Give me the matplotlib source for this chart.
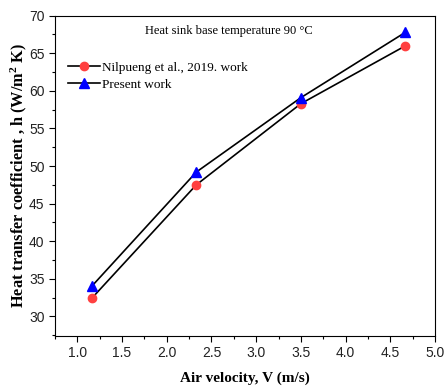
import matplotlib
matplotlib.use("Agg")
import matplotlib.pyplot as plt
from matplotlib.ticker import MultipleLocator, FormatStrFormatter

plt.rcParams['mathtext.fontset'] = 'custom'
plt.rcParams['mathtext.rm'] = 'Liberation Serif:bold'
plt.rcParams['mathtext.bf'] = 'Liberation Serif:bold'
plt.rcParams['mathtext.default'] = 'rm'

velocity = [1.16, 2.33, 3.5, 4.67]
nilpueng = [32.4, 47.5, 58.3, 66.0]
present = [34.0, 49.2, 59.1, 67.8]

xticks = [1.0, 1.5, 2.0, 2.5, 3.0, 3.5, 4.0, 4.5, 5.0]
yticks = [30, 35, 40, 45, 50, 55, 60, 65, 70]

fig = plt.figure(figsize=(4.44, 3.87), dpi=100)
ax = fig.add_axes([55/444, 1-336/387, (435-55)/444, (336-15.7)/387])

ax.plot(velocity, nilpueng, color='black', lw=1.2, marker='o', ms=6,
        mfc='#ff4040', mec='#ff4040', label='Nilpueng et al., 2019. work')
ax.plot(velocity, present, color='black', lw=1.2, marker='^', ms=6.5,
        mfc='#0000ff', mec='#0000ff', label='Present work')

ax.set_xlim(0.75, 5.0)
ax.set_ylim(27.4, 70)
ax.set_xticks(xticks)
ax.set_yticks(yticks)
ax.xaxis.set_minor_locator(MultipleLocator(0.25))
ax.yaxis.set_minor_locator(MultipleLocator(2.5))
ax.xaxis.set_major_formatter(FormatStrFormatter('%.1f'))
ax.tick_params(which='major', direction='out', length=4, width=0.8,
               labelsize=10, top=False, right=False)
ax.tick_params(which='minor', direction='out', length=2.5, width=0.8,
               top=False, right=False)
for lab in ax.get_xticklabels() + ax.get_yticklabels():
    lab.set_fontfamily('Liberation Sans')
    lab.set_color('#222222')

ax.set_xlabel('Air velocity, V (m/s)', fontfamily='Liberation Serif',
              fontweight='bold', fontsize=11, labelpad=8)
ax.set_ylabel('Heat transfer coefficient , h (W/m$^{2}$ K)', fontfamily='Liberation Serif',
              fontweight='bold', fontsize=11.8, labelpad=0)

ax.text(0.458, 0.952, 'Heat sink base temperature 90 \u00b0C', transform=ax.transAxes,
        ha='center', va='center', fontfamily='Liberation Serif', fontsize=9)

leg = ax.legend(loc='upper left', bbox_to_anchor=(0.01, 0.885), frameon=False,
                prop={'family': 'Liberation Serif', 'size': 9.5},
                handlelength=2.4, handletextpad=0.2, labelspacing=0.35,
                borderaxespad=0.3)

fig.savefig('out.png', dpi=100)
